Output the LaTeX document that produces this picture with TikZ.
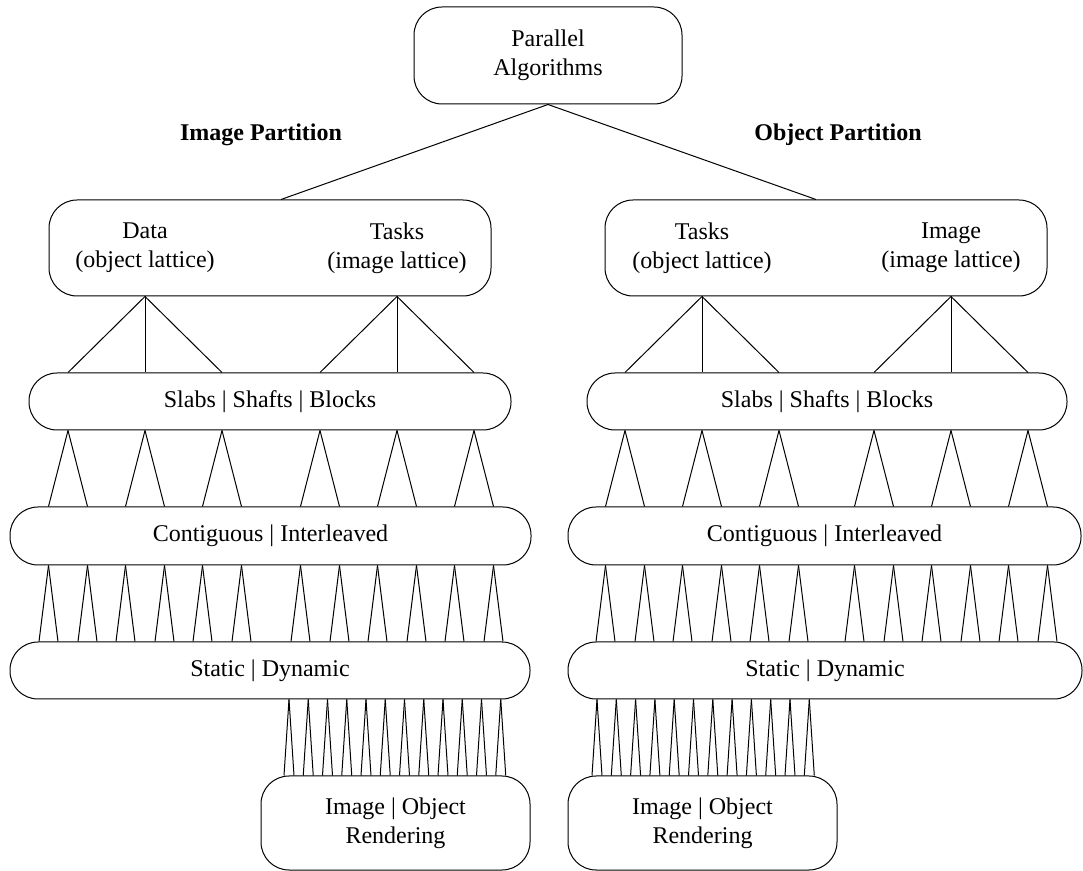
\documentclass[tikz,border=0pt]{standalone}
\usepackage{fontspec}
\setmainfont{Liberation Serif}
\tikzset{
  stage/.style={draw, rounded corners=14pt, inner sep=0pt, align=center, line width=0.5pt},
  part/.style={font=\fontsize{12}{14.5}\selectfont\bfseries},
  link/.style={line width=0.5pt},
}
\begin{document}
\begin{tikzpicture}[x=0.5pt, y=-0.5pt, every node/.style={font=\fontsize{12}{14.5}\selectfont}]
    \useasboundingbox (0,0) rectangle (1083,871);

    % Root
    \node[stage, minimum width=134pt, minimum height=48.5pt] (algo) at (548,55.5) {Parallel\\Algorithms};
    \node[part] (ilabel) at (261,135) {Image Partition};
    \node[part] (olabel) at (838,135) {Object Partition};

    % Image partition column
    \node[stage, minimum width=221pt, minimum height=48pt] (ipart) at (270,248) {};
    \node[align=center] (idata) at (145,248) {Data\\(object lattice)};
    \node[align=center] (itask) at (397,248) {Tasks\\(image lattice)};
    \node[stage, minimum width=241pt, minimum height=28.5pt] (islabs) at (270,401.5) {Slabs | Shafts | Blocks};
    \node[stage, minimum width=260.5pt, minimum height=29pt] (icont) at (270.5,536) {Contiguous | Interleaved};
    \node[stage, minimum width=260pt, minimum height=28.5pt] (istat) at (270,670.5) {Static | Dynamic};
    \node[stage, minimum width=134.5pt, minimum height=47pt] (irend) at (395.5,823) {Image | Object\\Rendering};

    % Object partition column
    \node[stage, minimum width=221pt, minimum height=48pt] (opart) at (826,248) {};
    \node[align=center] (otask) at (702,248) {Tasks\\(object lattice)};
    \node[align=center] (oimage) at (951,248) {Image\\(image lattice)};
    \node[stage, minimum width=240pt, minimum height=28.5pt] (oslabs) at (827,401.5) {Slabs | Shafts | Blocks};
    \node[stage, minimum width=256.5pt, minimum height=29pt] (ocont) at (824.5,536) {Contiguous | Interleaved};
    \node[stage, minimum width=257pt, minimum height=28.5pt] (ostat) at (825,670.5) {Static | Dynamic};
    \node[stage, minimum width=134.5pt, minimum height=47pt] (orend) at (702.5,823) {Image | Object\\Rendering};

    % Root links
    \draw[link] (algo.south) -- (281,0 |- ipart.north);
    \draw[link] (algo.south) -- (816,0 |- opart.north);

    % Partition -> slabs
    \foreach \a in {145,397}
      \foreach \d in {-77,0,77} {
        \pgfmathsetmacro\b{\a+\d}
        \draw[link] (\a,0 |- ipart.south) -- (\b,0 |- islabs.north);
      }
    \foreach \a in {702,951}
      \foreach \d in {-77,0,77} {
        \pgfmathsetmacro\b{\a+\d}
        \draw[link] (\a,0 |- opart.south) -- (\b,0 |- oslabs.north);
      }

    % Slabs -> contiguous
    \foreach \a in {68,145,222,320,397,474}
      \foreach \d in {-19.5,19.5} {
        \pgfmathsetmacro\b{\a+\d}
        \draw[link] (\a,0 |- islabs.south) -- (\b,0 |- icont.north);
      }
    \foreach \a in {625,702,779,874,951,1028}
      \foreach \d in {-19.5,19.5} {
        \pgfmathsetmacro\b{\a+\d}
        \draw[link] (\a,0 |- oslabs.south) -- (\b,0 |- ocont.north);
      }

    % Contiguous -> static
    \foreach \a in {68,145,222,320,397,474}
      \foreach \d in {-19.5,19.5}
        \foreach \e in {-9.5,9.5} {
          \pgfmathsetmacro\b{\a+\d}
          \pgfmathsetmacro\c{\a+\d+\e}
          \draw[link] (\b,0 |- icont.south) -- (\c,0 |- istat.north);
        }
    \foreach \a in {625,702,779,874,951,1028}
      \foreach \d in {-19.5,19.5}
        \foreach \e in {-9.5,9.5} {
          \pgfmathsetmacro\b{\a+\d}
          \pgfmathsetmacro\c{\a+\d+\e}
          \draw[link] (\b,0 |- ocont.south) -- (\c,0 |- ostat.north);
        }

    % Static -> rendering
    \foreach \k in {0,...,11}
      \foreach \e in {-5,5} {
        \pgfmathsetmacro\b{289+19.25*\k}
        \pgfmathsetmacro\c{289+19.25*\k+\e}
        \draw[link] (\b,0 |- istat.south) -- (\c,0 |- irend.north);
      }
    \foreach \k in {0,...,11}
      \foreach \e in {-5,5} {
        \pgfmathsetmacro\b{597+19.3*\k}
        \pgfmathsetmacro\c{597+19.3*\k+\e}
        \draw[link] (\b,0 |- ostat.south) -- (\c,0 |- orend.north);
      }
\end{tikzpicture}
\end{document}
